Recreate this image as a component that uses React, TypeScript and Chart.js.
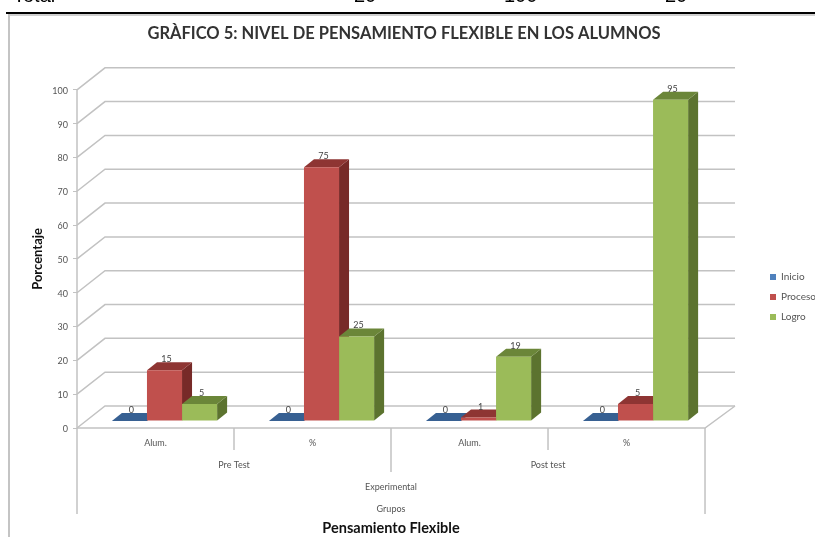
import React, { useEffect, useRef } from "react";
import { Chart, registerables } from "chart.js";

Chart.register(...registerables);

const categories = ["Alum.", "%", "Alum.", "%"];
const phases = ["Pre Test", "Post test"];
const groupName = ["Experimental"];
const groupTitle = ["Grupos"];
const inicio = [0, 0, 0, 0];
const proceso = [15, 75, 1, 5];
const logo = [5, 25, 19, 95];
const yTicks = [0, 10, 20, 30, 40, 50, 60, 70, 80, 90, 100];

const FONT = "Lato";
const GRID = "#c2c2c2";
const BACK_X = 28;
const BACK_Y = -22;
const PLANE_X = 9;
const PLANE_Y = -7;
const DEPTH_X = 10;
const DEPTH_Y = -8;

const shades = [
  { front: "#4F81BD", side: "#2f5580", top: "#376092" },
  { front: "#C0504D", side: "#772a28", top: "#8e3533" },
  { front: "#9BBB59", side: "#5c732f", top: "#6b8639" },
];

const scene = {
  id: "scene",
  afterLayout(chart: any) {
    const l = chart.legend;
    const w = l.right - l.left;
    const h = l.bottom - l.top;
    l.left = 760;
    l.right = 760 + w;
    l.top = 262;
    l.bottom = 262 + h;
    chart.titleBlock.left = 0;
    chart.titleBlock.right = 808;
  },
  beforeDatasetsDraw(chart: any) {
    const { ctx, chartArea: a, scales } = chart;
    const y = scales.y;
    const x = scales.x;
    const y0 = y.getPixelForValue(0);
    ctx.save();
    ctx.strokeStyle = GRID;
    ctx.lineWidth = 1.5;
    const line = (pts: number[][]) => {
      ctx.beginPath();
      pts.forEach((p, i) => (i ? ctx.lineTo(p[0], p[1]) : ctx.moveTo(p[0], p[1])));
      ctx.stroke();
    };
    yTicks.forEach((v) => {
      const py = y.getPixelForValue(v);
      line([
        [a.left, py],
        [a.left + BACK_X, py + BACK_Y],
        [a.right + BACK_X + 2, py + BACK_Y],
      ]);
    });
    // floor and axis lines
    line([[a.left, y0], [a.right, y0], [a.right + BACK_X + 2, y0 + BACK_Y]]);
    line([[a.left, y.getPixelForValue(100)], [a.left, y0 + 86]]);
    line([[a.right, y0], [a.right, y0 + 86]]);
    // multi-level category dividers
    const step = x.width / categories.length;
    line([[a.left + step, y0], [a.left + step, y0 + 22]]);
    line([[a.left + step * 3, y0], [a.left + step * 3, y0 + 22]]);
    line([[a.left + step * 2, y0], [a.left + step * 2, y0 + 44]]);
    ctx.restore();
    ctx.save();
    ctx.translate(PLANE_X, PLANE_Y);
    // side and top faces, left to right; the library paints the front faces over them
    chart.data.datasets.forEach((_: any, i: number) => {
      const s = shades[i];
      chart.getDatasetMeta(i).data.forEach((bar: any) => {
        const w = bar.width / 2;
        const l = bar.x - w;
        const r = bar.x + w;
        const top = bar.y;
        const base = bar.base;
        ctx.fillStyle = s.side;
        ctx.beginPath();
        ctx.moveTo(r, base);
        ctx.lineTo(r + DEPTH_X, base + DEPTH_Y);
        ctx.lineTo(r + DEPTH_X, top + DEPTH_Y);
        ctx.lineTo(r, top);
        ctx.closePath();
        ctx.fill();
        ctx.fillStyle = s.top;
        ctx.beginPath();
        ctx.moveTo(l, top);
        ctx.lineTo(l + DEPTH_X, top + DEPTH_Y);
        ctx.lineTo(r + DEPTH_X, top + DEPTH_Y);
        ctx.lineTo(r, top);
        ctx.closePath();
        ctx.fill();
      });
    });
  },
  afterDatasetsDraw(chart: any) {
    const { ctx, data } = chart;
    ctx.fillStyle = "#444";
    ctx.font = `9px ${FONT}`;
    ctx.textAlign = "center";
    ctx.textBaseline = "middle";
    data.datasets.forEach((ds: any, i: number) => {
      chart.getDatasetMeta(i).data.forEach((bar: any, j: number) => {
        ctx.fillText(String(ds.data[j]), bar.x + 2, bar.y - 11);
      });
    });
    ctx.restore();
  },
};

const levelAxis = (labels: string[], weight: number, height: number, title?: string) => ({
  type: "category",
  position: "bottom",
  labels,
  weight,
  offset: true,
  grid: { display: false, drawTicks: false },
  border: { display: false },
  ticks: { font: { family: FONT, size: 9 }, color: "#555", padding: 10, maxRotation: 0, autoSkip: false },
  title: title
    ? { display: true, text: title, font: { family: FONT, size: 14.5, weight: "bold" }, color: "#111", padding: { top: 0, bottom: 0 } }
    : { display: false },
  afterFit: (s: any) => {
    s.height = height;
  },
});

export default function App() {
  const ref = useRef<HTMLCanvasElement>(null);
  useEffect(() => {
    document.body.style.margin = "0";
    const chart = new Chart(ref.current as HTMLCanvasElement, {
      type: "bar",
      plugins: [scene],
      data: {
        labels: categories,
        datasets: [
          { label: "Inicio", data: inicio, backgroundColor: shades[0].front },
          { label: "Proceso", data: proceso, backgroundColor: shades[1].front },
          { label: "Logro", data: logo, backgroundColor: shades[2].front },
        ],
      },
      options: {
        responsive: false,
        animation: false,
        layout: { padding: { left: 0, right: 44, top: 0, bottom: 0 } },
        datasets: { bar: { barPercentage: 1, categoryPercentage: 0.67 } },
        plugins: {
          title: {
            display: true,
            text: "GRÀFICO 5: NIVEL DE PENSAMIENTO FLEXIBLE EN LOS ALUMNOS",
            font: { family: FONT, size: 16.5, weight: "bold" },
            color: "#333",
            padding: { top: 24, bottom: 46 },
          },
          legend: {
            position: "right",
            align: "start",
            labels: {
              boxWidth: 6,
              boxHeight: 6,
              padding: 10,
              color: "#555",
              font: { family: FONT, size: 10 },
            },
          },
          tooltip: { enabled: false },
        },
        scales: {
          y: {
            min: 0,
            max: 100,
            ticks: { stepSize: 10, font: { family: FONT, size: 9 }, color: "#555", padding: 5, labelOffset: 1 },
            grid: { drawOnChartArea: false, tickLength: 4, color: GRID },
            border: { display: false },
            title: {
              display: true,
              text: "Porcentaje",
              font: { family: FONT, size: 13, weight: "bold" },
              color: "#111",
              padding: { top: 30, bottom: 0 },
            },
            afterFit: (s: any) => {
              s.width = 77;
            },
          },
          x: levelAxis(categories, 1, 22),
          x2: levelAxis(phases, 2, 21.5),
          x3: levelAxis(groupName, 3, 22),
          x4: levelAxis(groupTitle, 4, 43.5, "Pensamiento Flexible"),
        },
      } as any,
    });
    return () => chart.destroy();
  }, []);

  const top: React.CSSProperties = {
    position: "absolute",
    top: -17,
    font: "20px 'Liberation Sans'",
    lineHeight: "24px",
    color: "#000",
    whiteSpace: "nowrap",
  };
  return (
    <div style={{ position: "relative", width: 815, height: 537, overflow: "hidden", background: "#fff" }}>
      <canvas ref={ref} width={815} height={537} style={{ position: "absolute", left: 0, top: 0, display: "block", filter: "blur(0.5px)" }} />
      <div style={{ position: "absolute", left: 6, right: 0, top: 12, height: 2, background: "#000" }} />
      <div style={{ position: "absolute", left: 8, right: 0, top: 14, height: 2, background: "#cfcfcf" }} />
      <div style={{ position: "absolute", left: 8, top: 14, bottom: 0, width: 2, background: "#c4c4c4" }} />
      <div style={{ ...top, left: 13 }}>Total</div>
      <div style={{ ...top, left: 354 }}>20</div>
      <div style={{ ...top, left: 504 }}>100</div>
      <div style={{ ...top, left: 665 }}>20</div>
    </div>
  );
}
